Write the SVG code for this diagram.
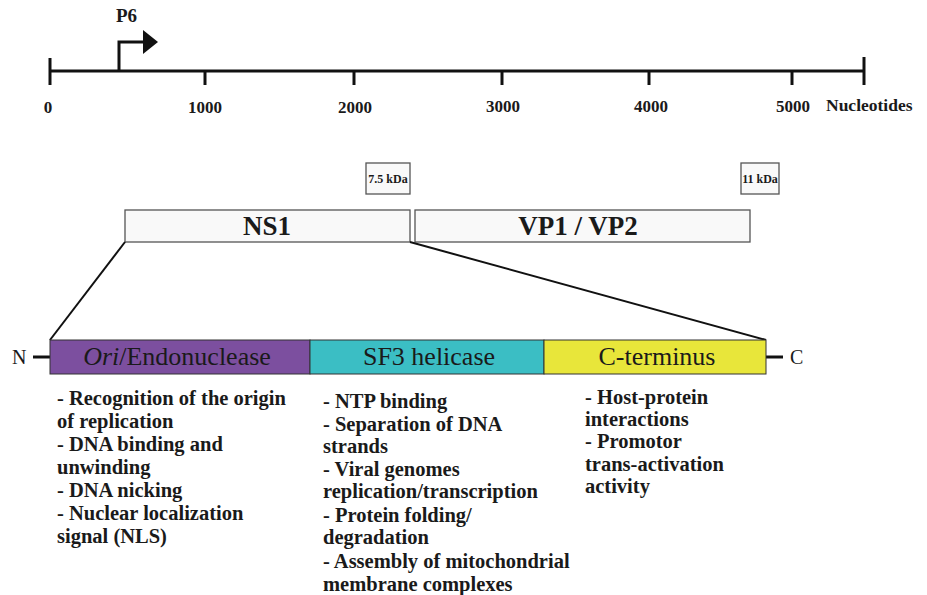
<svg xmlns="http://www.w3.org/2000/svg" width="927" height="595" viewBox="0 0 927 595" font-family="'Liberation Serif', 'DejaVu Serif', serif">
<style>
text{font-family:"Liberation Serif","DejaVu Serif",serif;font-weight:bold;fill:#1a1a1a}
.tk{font-size:17px;text-anchor:middle}
.ln{stroke:#111;stroke-width:3;fill:none}
.box{fill:#f9f9f9;stroke:#555;stroke-width:1.3}
.kd{font-size:12px;text-anchor:middle}
.big{font-size:27px;text-anchor:middle}
.dom{font-size:26px;text-anchor:middle;font-weight:normal}
.d{font-size:20.5px}
</style>
<g id="axis">
<line class="ln" x1="50" y1="71" x2="864" y2="71"/>
<line class="ln" x1="50" y1="58" x2="50" y2="85"/>
<line class="ln" x1="864" y1="57" x2="864" y2="85"/>
<line class="ln" x1="205" y1="71" x2="205" y2="85"/>
<line class="ln" x1="354" y1="71" x2="354" y2="85"/>
<line class="ln" x1="502" y1="71" x2="502" y2="85"/>
<line class="ln" x1="649" y1="71" x2="649" y2="85"/>
<line class="ln" x1="792" y1="71" x2="792" y2="85"/>
<text class="tk" x="48" y="113">0</text>
<text class="tk" x="205" y="113">1000</text>
<text class="tk" x="355" y="113">2000</text>
<text class="tk" x="503" y="112">3000</text>
<text class="tk" x="651" y="112">4000</text>
<text class="tk" x="793" y="112">5000</text>
<text x="826" y="111" style="font-size:17.5px">Nucleotides</text>
</g>
<g id="P6">
<path d="M119 71 V42 H145" class="ln" stroke-width="4"/>
<polygon points="143,30 158,42 143,54" fill="#111"/>
<text x="116" y="22" style="font-size:19px">P6</text>
</g>
<g id="kda75"><rect class="box" x="366" y="163" width="44" height="31" fill="#fff"/><text class="kd" x="388" y="183">7.5 kDa</text></g>
<g id="kda11"><rect class="box" x="741" y="163" width="38" height="31" fill="#fff"/><text class="kd" x="760" y="183">11 kDa</text></g>
<g id="NS1"><rect class="box" x="125" y="210" width="285" height="32"/><text class="big" x="267" y="235">NS1</text></g>
<g id="VP"><rect class="box" x="415" y="210" width="335" height="32"/><text class="big" x="578" y="235">VP1 / VP2</text></g>
<g id="connectors">
<line x1="125" y1="242" x2="50" y2="340" stroke="#111" stroke-width="2"/>
<line x1="410" y1="242" x2="766" y2="340" stroke="#111" stroke-width="2"/>
<line x1="33" y1="357" x2="50" y2="357" stroke="#111" stroke-width="3"/>
<line x1="766" y1="357" x2="783" y2="357" stroke="#111" stroke-width="3"/>
</g>
<g id="N"><text x="12" y="364" style="font-size:20px;font-weight:normal">N</text></g>
<g id="C"><text x="790" y="364" style="font-size:20px;font-weight:normal">C</text></g>
<g id="ori"><rect x="50" y="340" width="260" height="34" fill="#7c4f9f" stroke="#333" stroke-width="1"/><text class="dom" x="177" y="365"><tspan font-style="italic">Ori</tspan>/Endonuclease</text></g>
<g id="sf3"><rect x="310" y="340" width="234" height="34" fill="#3bbec4" stroke="#333" stroke-width="1"/><text class="dom" x="429" y="365">SF3 helicase</text></g>
<g id="cterm"><rect x="544" y="340" width="222" height="34" fill="#e8e63a" stroke="#333" stroke-width="1"/><text class="dom" x="657" y="365">C-terminus</text></g>
<g id="desc1">
<text class="d" x="57" y="405">- Recognition of the origin</text>
<text class="d" x="57" y="428">of replication</text>
<text class="d" x="57" y="451">- DNA binding and</text>
<text class="d" x="57" y="474">unwinding</text>
<text class="d" x="57" y="497">- DNA nicking</text>
<text class="d" x="57" y="520">- Nuclear localization</text>
<text class="d" x="57" y="543">signal (NLS)</text>
</g>
<g id="desc2">
<text class="d" x="323" y="408">- NTP binding</text>
<text class="d" x="323" y="431">- Separation of DNA</text>
<text class="d" x="323" y="453">strands</text>
<text class="d" x="323" y="476">- Viral genomes</text>
<text class="d" x="323" y="498">replication/transcription</text>
<text class="d" x="323" y="522">- Protein folding/</text>
<text class="d" x="323" y="544">degradation</text>
<text class="d" x="323" y="568">- Assembly of mitochondrial</text>
<text class="d" x="323" y="591">membrane complexes</text>
</g>
<g id="desc3">
<text class="d" x="585" y="404">- Host-protein</text>
<text class="d" x="585" y="426">interactions</text>
<text class="d" x="585" y="448">- Promotor</text>
<text class="d" x="585" y="471">trans-activation</text>
<text class="d" x="585" y="493">activity</text>
</g>
</svg>
